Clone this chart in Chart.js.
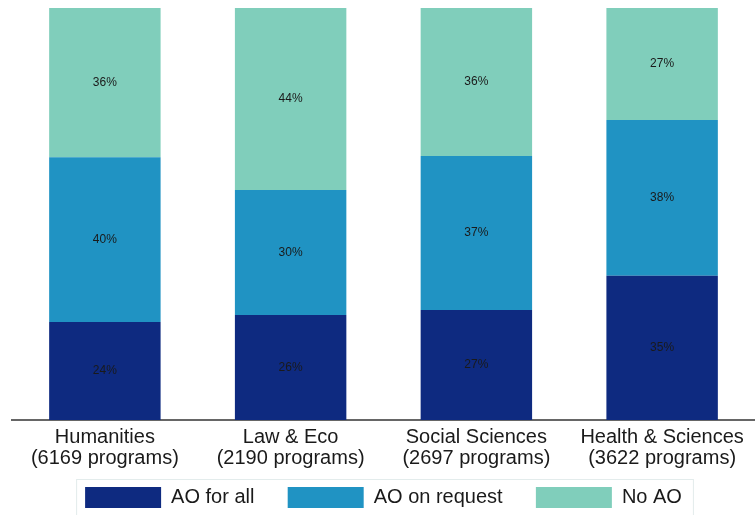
<!DOCTYPE html>
<html>
<head>
<meta charset="utf-8">
<script src="https://cdn.jsdelivr.net/npm/chart.js@4"></script>
<style>
  html, body { margin: 0; padding: 0; background: #fff; overflow: hidden; }
  #wrap { width: 755px; height: 518px; }
</style>
</head>
<body>
<div id="wrap"><canvas id="bar-chart"></canvas></div>
<script>
const CATEGORIES = [
    ["Humanities", "(6169 programs)"],
    ["Law & Eco", "(2190 programs)"],
    ["Social Sciences", "(2697 programs)"],
    ["Health & Sciences", "(3622 programs)"]
];
const AO_FOR_ALL = [23.8, 25.5, 26.7, 35.0];
const AO_ON_REQUEST = [40.0, 30.3, 37.4, 37.8];
const NO_AO = [36.2, 44.2, 35.9, 27.2];

const FONT = '"Liberation Sans", Arial, sans-serif';

// percent labels in the middle of each segment
const segmentLabels = {
    id: 'segmentLabels',
    afterDatasetsDraw(chart) {
        const ctx = chart.ctx;
        ctx.save();
        ctx.font = '12px ' + FONT;
        ctx.fillStyle = '#1a1a1a';
        ctx.textAlign = 'center';
        ctx.textBaseline = 'middle';
        chart.data.datasets.forEach((ds, i) => {
            chart.getDatasetMeta(i).data.forEach((bar, j) => {
                const y = (bar.y + bar.base) / 2;
                ctx.fillText(Math.round(ds.data[j]) + '%', bar.x, y);
            });
        });
        ctx.restore();
    }
};

// thin frame round the legend
const legendFrame = {
    id: 'legendFrame',
    afterDraw(chart) {
        const lg = chart.legend;
        if (!lg || !lg.legendHitBoxes.length) return;
        const boxes = lg.legendHitBoxes;
        const left = boxes[0].left - 9;
        const last = boxes[boxes.length - 1];
        const right = last.left + last.width + 11;
        const top = boxes[0].top - 8;
        const ctx = chart.ctx;
        ctx.save();
        ctx.strokeStyle = '#e3ecec';
        ctx.lineWidth = 1;
        ctx.strokeRect(left + 0.5, top + 0.5, right - left, 80);
        ctx.restore();
    }
};

function makeDataset(label, values, color) {
    return {
        label: label,
        data: values,
        backgroundColor: color,
        borderWidth: 0,
        categoryPercentage: 0.6,
        barPercentage: 1.0
    };
}

const ctx = document.querySelector('#bar-chart').getContext('2d');
const myChart = new Chart(ctx, {
    type: 'bar',
    data: {
        labels: CATEGORIES,
        datasets: [
            makeDataset('AO for all', AO_FOR_ALL, '#0e2a80'),
            makeDataset('AO on request', AO_ON_REQUEST, '#2093c3'),
            makeDataset('No AO', NO_AO, '#80cebb')
        ]
    },
    plugins: [segmentLabels, legendFrame],
    options: {
        responsive: true,
        maintainAspectRatio: false,
        animation: false,
        layout: { padding: { top: 8, left: 12, right: 0, bottom: 0 } },
        plugins: {
            tooltip: { enabled: false },
            legend: {
                position: 'bottom',
                labels: {
                    boxWidth: 76,
                    boxHeight: 21,
                    padding: 11,
                    color: '#1a1a1a',
                    font: { size: 20, family: FONT },
                    generateLabels(chart) {
                        // extra room between items without growing the vertical padding
                        const items = Chart.defaults.plugins.legend.labels.generateLabels(chart);
                        items.forEach((it, i) => {
                            if (i < items.length - 1) it.text += '    ';
                        });
                        return items;
                    }
                }
            }
        },
        scales: {
            x: {
                stacked: true,
                grid: { display: false, drawTicks: false },
                border: { display: true, color: '#666666', width: 2 },
                ticks: {
                    color: '#1a1a1a',
                    padding: 7,
                    autoSkip: false,
                    maxRotation: 0,
                    font: { size: 20, family: FONT, lineHeight: 1.05 }
                }
            },
            y: {
                stacked: true,
                display: false,
                min: 0,
                max: 100
            }
        }
    }
});
</script>
</body>
</html>
